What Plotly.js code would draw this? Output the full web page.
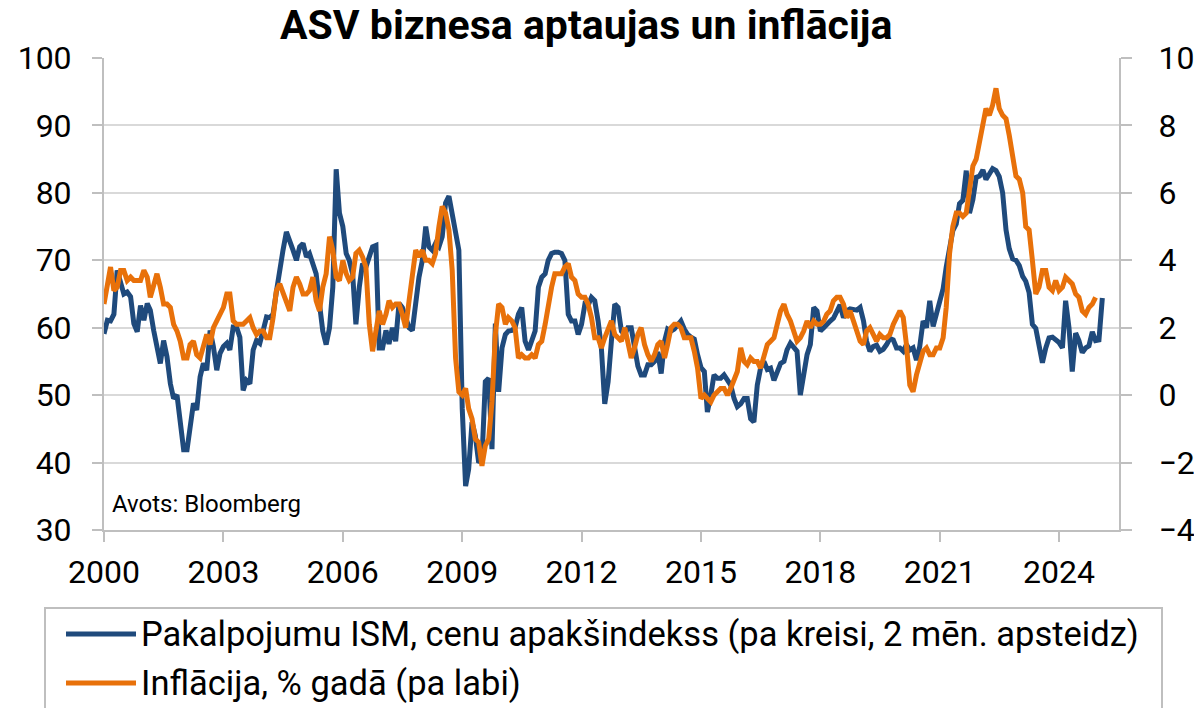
<!DOCTYPE html>
<html>
<head>
<meta charset="utf-8">
<script src="https://cdn.plot.ly/plotly-3.0.1.min.js"></script>
<style>
  html, body { margin: 0; padding: 0; background: #fff; }
  #chart { width: 1194px; height: 708px; }
</style>
</head>
<body>
<div id="chart"></div>
<script>
// ISM services prices sub-index (left axis), plotted 2 months ahead; monthly from 2000-01
const ismStart = [2000, 1];
const ismPrices = [
  59.1, 61.1, 61.0, 62.0, 68.5, 66.5, 65.0, 65.3, 64.6, 60.6, 59.4, 63.3,
  61.1, 63.6, 62.6, 59.6, 57.2, 54.7, 58.1, 55.7, 51.7, 49.5, 50.0, 45.3,
  41.9, 41.9, 44.8, 48.8, 47.8, 52.7, 54.7, 53.7, 59.6, 57.2, 53.7, 56.2,
  57.2, 57.7, 56.7, 60.1, 60.1, 58.6, 50.7, 52.2, 51.7, 56.7, 58.1, 57.7,
  59.6, 61.6, 61.5, 62.0, 65.3, 69.0, 71.5, 74.2, 72.5, 71.5, 70.0, 72.0,
  72.5, 70.5, 71.0, 69.2, 68.0, 63.5, 59.5, 57.5, 60.0, 66.0, 83.5, 77.0,
  75.0, 71.0, 70.0, 68.0, 60.5, 66.0, 69.5, 69.0, 70.5, 72.0, 72.2, 57.0,
  57.0, 59.6, 57.6, 60.0, 58.0, 63.6, 63.0, 61.5, 60.0, 59.6, 64.0, 67.5,
  70.0, 75.0, 72.0, 71.5, 72.5, 72.0, 73.5, 78.5, 79.5, 77.0, 73.5, 71.5,
  48.0, 36.5, 39.0, 46.0, 44.0, 40.0, 40.5, 52.0, 52.5, 42.0, 60.6, 50.5,
  57.0, 59.0, 59.5, 59.6, 60.0, 62.0, 63.0, 58.0, 56.7, 58.0, 59.5, 66.0,
  67.5, 68.0, 70.0, 71.0, 71.2, 71.2, 71.0, 70.0, 62.0, 61.0, 61.0, 59.0,
  60.5, 63.5, 63.3, 64.5, 64.0, 61.0, 57.0, 48.7, 52.0, 58.0, 63.5, 63.0,
  59.5, 59.0, 60.0, 60.0, 57.5, 54.3, 53.0, 53.0, 54.5, 54.5, 55.0, 56.4,
  53.2, 58.0, 59.8, 59.5, 59.8, 60.5, 61.0, 59.8, 59.0, 58.6, 58.3, 56.0,
  54.1, 53.5, 47.5, 50.0, 53.0, 52.5, 52.5, 53.0, 52.1, 51.5, 49.5, 48.3,
  48.7, 49.5, 49.5, 46.5, 46.0, 51.5, 54.0, 55.0, 53.8, 54.0, 52.2, 53.5,
  54.7, 55.0, 56.7, 57.7, 57.0, 56.5, 50.0, 53.5, 56.0, 57.5, 63.0, 62.5,
  59.5, 60.0, 60.6, 61.0, 61.4, 62.3, 63.4, 61.5, 62.5, 62.8, 62.6, 62.6,
  63.0, 61.0, 58.0, 56.5, 57.2, 57.4, 56.5, 56.8, 57.5, 58.4, 58.2, 57.0,
  57.0, 56.5, 57.5, 56.7, 57.0, 55.2, 57.2, 61.0, 60.0, 64.0, 60.2, 62.1,
  64.0, 65.8, 69.0, 72.0, 74.4, 75.4, 78.4, 78.9, 83.3, 77.0, 79.0, 82.3,
  82.5, 83.4, 82.0, 82.8, 83.6, 83.3, 82.4, 80.0, 74.5, 71.7, 70.2, 70.0,
  69.2, 67.6, 66.9, 65.2, 60.5, 59.9, 57.5, 54.8, 57.0, 58.5, 58.6, 58.2,
  57.8, 57.0, 64.0, 60.0, 53.5, 59.2, 58.1, 56.3, 57.0, 57.3, 59.4, 58.1,
  58.2, 64.4
];

// US CPI inflation, % y/y (right axis); monthly from 2000-01
const cpiStart = [2000, 1];
const cpiYoY = [
  2.7, 3.2, 3.8, 3.1, 3.2, 3.7, 3.7, 3.4, 3.5, 3.4, 3.4, 3.4,
  3.7, 3.5, 2.9, 3.3, 3.6, 3.2, 2.7, 2.7, 2.6, 2.1, 1.9, 1.6,
  1.1, 1.1, 1.5, 1.6, 1.2, 1.1, 1.5, 1.8, 1.5, 2.0, 2.2, 2.4,
  2.6, 3.0, 3.0, 2.2, 2.1, 2.1, 2.1, 2.2, 2.3, 2.0, 1.8, 1.9,
  1.9, 1.7, 1.7, 2.3, 3.1, 3.3, 3.0, 2.7, 2.5, 3.2, 3.5, 3.3,
  3.0, 3.0, 3.1, 3.5, 2.8, 2.5, 3.2, 3.6, 4.7, 4.3, 3.5, 3.4,
  4.0, 3.6, 3.4, 3.5, 4.2, 4.3, 4.1, 3.8, 2.1, 1.3, 2.0, 2.5,
  2.1, 2.4, 2.8, 2.6, 2.7, 2.7, 2.4, 2.0, 2.8, 3.5, 4.3, 4.1,
  4.3, 4.0, 4.0, 3.9, 4.2, 5.0, 5.6, 5.4, 4.9, 3.7, 1.1, 0.1,
  0.0, 0.2, -0.4, -0.7, -1.3, -1.4, -2.1, -1.5, -1.3, -0.2, 1.8, 2.7,
  2.6, 2.1, 2.3, 2.2, 2.0, 1.1, 1.2, 1.1, 1.1, 1.2, 1.1, 1.5,
  1.6, 2.1, 2.7, 3.2, 3.6, 3.6, 3.6, 3.8, 3.9, 3.5, 3.4, 3.0,
  2.9, 2.9, 2.7, 2.3, 1.7, 1.7, 1.4, 1.7, 2.0, 2.2, 1.8, 1.7,
  1.6, 2.0, 1.5, 1.1, 1.4, 1.8, 2.0, 1.5, 1.2, 1.0, 1.2, 1.5,
  1.6, 1.1, 1.5, 2.0, 2.1, 2.1, 2.0, 1.7, 1.7, 1.7, 1.3, 0.8,
  -0.1, 0.0, -0.1, -0.2, 0.0, 0.1, 0.2, 0.2, 0.0, 0.2, 0.5, 0.7,
  1.4, 1.0, 0.9, 1.1, 1.0, 1.0, 0.8, 1.1, 1.5, 1.6, 1.7, 2.1,
  2.5, 2.7, 2.4, 2.2, 1.9, 1.6, 1.7, 1.9, 2.2, 2.0, 2.2, 2.1,
  2.1, 2.2, 2.4, 2.5, 2.8, 2.9, 2.9, 2.7, 2.3, 2.5, 2.2, 1.9,
  1.6, 1.5, 1.9, 2.0, 1.8, 1.6, 1.8, 1.7, 1.7, 1.8, 2.1, 2.3,
  2.5, 2.3, 1.5, 0.3, 0.1, 0.6, 1.0, 1.3, 1.4, 1.2, 1.2, 1.4,
  1.4, 1.7, 2.6, 4.2, 5.0, 5.4, 5.4, 5.3, 5.4, 6.2, 6.8, 7.0,
  7.5, 7.9, 8.5, 8.3, 8.6, 9.1, 8.5, 8.3, 8.2, 7.7, 7.1, 6.5,
  6.4, 6.0, 5.0, 4.9, 4.0, 3.0, 3.2, 3.7, 3.7, 3.2, 3.1, 3.4,
  3.1, 3.2, 3.5, 3.4, 3.3, 3.0, 2.9, 2.5, 2.4, 2.6, 2.7, 2.9
];

const tickYears = [2000, 2003, 2006, 2009, 2012, 2015, 2018, 2021, 2024];
const seriesNames = [
  'Pakalpojumu ISM, cenu apakšindekss (pa kreisi, 2 mēn. apsteidz)',
  'Inflācija, % gadā (pa labi)'
];
const seriesColors = ['#1F4A7C', '#E8710A'];
const titleText = 'ASV biznesa aptaujas un inflācija';
const sourceText = 'Avots: Bloomberg';

function monthDates(start, n) {
  const out = [];
  let y = start[0], m = start[1];
  for (let i = 0; i < n; i++) {
    out.push(y + '-' + String(m).padStart(2, '0') + '-01');
    m++; if (m > 12) { m = 1; y++; }
  }
  return out;
}

// pixel helpers for layout-only elements (legend box, source note)
const W = 1194, H = 708;
const L = 104, R = 1119, T = 58, B = 530;
const px = p => (p - L) / (R - L);
const py = p => (B - p) / (B - T);

const FONT = 'Roboto, "Open Sans", sans-serif';
const gray = '#bfbfbf';

const traces = [
  {
    x: monthDates(ismStart, ismPrices.length), y: ismPrices,
    type: 'scatter', mode: 'lines', name: seriesNames[0],
    line: { color: seriesColors[0], width: 5 }, yaxis: 'y', showlegend: false
  },
  {
    x: monthDates(cpiStart, cpiYoY.length), y: cpiYoY,
    type: 'scatter', mode: 'lines', name: seriesNames[1],
    line: { color: seriesColors[1], width: 5 }, yaxis: 'y2', showlegend: false
  }
];

const layout = {
  width: W, height: H,
  margin: { l: L, r: W - R, t: T, b: H - B, pad: 0 },
  paper_bgcolor: '#fff', plot_bgcolor: '#fff',
  font: { family: FONT, color: '#000' },
  title: {
    text: titleText, font: { family: FONT, size: 41, weight: 700, color: '#000' },
    xref: 'container', yref: 'container', x: 0.491, y: 1 - 25 / H,
    xanchor: 'center', yanchor: 'middle'
  },
  xaxis: {
    type: 'date', range: ['2000-01-01', '2025-07-04'],
    tickmode: 'array',
    tickvals: tickYears.map(y => y + '-01-01'),
    ticktext: tickYears.map(String),
    ticks: 'outside', ticklen: 10, tickwidth: 2, tickcolor: gray,
    showline: true, linecolor: gray, linewidth: 2,
    showgrid: false, zeroline: false,
    tickfont: { family: FONT, size: 32, color: '#000' },
    ticklabelstandoff: 3
  },
  yaxis: {
    range: [30, 100], dtick: 10, tick0: 30,
    ticks: 'outside', ticklen: 10, tickwidth: 2, tickcolor: gray,
    showline: true, linecolor: gray, linewidth: 2,
    showgrid: true, gridcolor: '#d9d9d9', gridwidth: 2,
    zeroline: false,
    tickfont: { family: FONT, size: 32, color: '#000' },
    ticklabelstandoff: 14
  },
  yaxis2: {
    overlaying: 'y', side: 'right',
    range: [-4, 10], dtick: 2, tick0: -4,
    ticks: 'outside', ticklen: 11, tickwidth: 2, tickcolor: gray,
    showline: true, linecolor: gray, linewidth: 2,
    showgrid: false, zeroline: false,
    tickfont: { family: FONT, size: 32, color: '#000' },
    ticklabelstandoff: 20
  },
  showlegend: false,
  shapes: [
    { type: 'rect', xref: 'paper', yref: 'paper',
      x0: px(45), x1: px(1162), y0: py(715), y1: py(608),
      line: { color: gray, width: 2 }, fillcolor: 'rgba(0,0,0,0)', layer: 'above' },
    { type: 'line', xref: 'paper', yref: 'paper',
      x0: px(66), x1: px(136), y0: py(634), y1: py(634),
      line: { color: seriesColors[0], width: 5 } },
    { type: 'line', xref: 'paper', yref: 'paper',
      x0: px(66), x1: px(136), y0: py(683), y1: py(683),
      line: { color: seriesColors[1], width: 5 } }
  ],
  annotations: [
    { text: sourceText, xref: 'paper', yref: 'paper', x: px(110), y: py(504),
      xanchor: 'left', yanchor: 'middle', showarrow: false,
      font: { family: FONT, size: 24, color: '#000' } },
    { text: seriesNames[0], xref: 'paper', yref: 'paper', x: px(139), y: py(634),
      xanchor: 'left', yanchor: 'middle', showarrow: false,
      font: { family: FONT, size: 34.5, color: '#000' } },
    { text: seriesNames[1], xref: 'paper', yref: 'paper', x: px(139), y: py(683),
      xanchor: 'left', yanchor: 'middle', showarrow: false,
      font: { family: FONT, size: 34.5, color: '#000' } }
  ]
};

Plotly.newPlot('chart', traces, layout, { staticPlot: true, displayModeBar: false });
</script>
</body>
</html>
